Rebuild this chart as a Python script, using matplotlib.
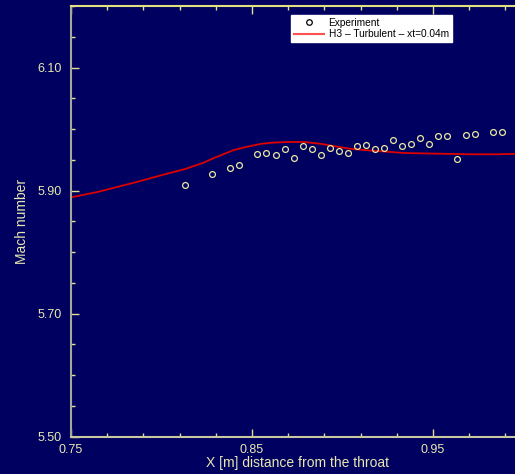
import numpy as np
import matplotlib
matplotlib.use('Agg')
import matplotlib.pyplot as plt
from matplotlib.ticker import MultipleLocator, FormatStrFormatter
from matplotlib.lines import Line2D

plt.rcParams['font.family'] = ['Liberation Sans', 'DejaVu Sans']

# experiment (open circles)
exp_x = [0.813, 0.828, 0.838, 0.843, 0.853, 0.858, 0.863, 0.868, 0.873, 0.878,
         0.883, 0.888, 0.893, 0.898, 0.903, 0.908, 0.913, 0.918, 0.923, 0.928,
         0.933, 0.938, 0.943, 0.948, 0.953, 0.958, 0.963, 0.968, 0.973, 0.983, 0.988]
exp_y = [5.909, 5.927, 5.937, 5.941, 5.960, 5.961, 5.958, 5.968, 5.953, 5.972,
         5.967, 5.958, 5.969, 5.964, 5.961, 5.973, 5.974, 5.968, 5.970, 5.983,
         5.972, 5.975, 5.985, 5.976, 5.989, 5.989, 5.951, 5.991, 5.992, 5.995, 5.995]

# H3 turbulent computation
sim_x = [0.75, 0.765, 0.785, 0.795, 0.805, 0.813, 0.823, 0.829, 0.835, 0.840,
         0.847, 0.855, 0.862, 0.870, 0.879, 0.888, 0.898, 0.904, 0.916, 0.925,
         0.935, 0.953, 0.971, 0.985, 1.0]
sim_y = [5.889, 5.898, 5.913, 5.921, 5.929, 5.935, 5.945, 5.953, 5.960, 5.966,
         5.971, 5.976, 5.978, 5.979, 5.979, 5.976, 5.971, 5.968, 5.965, 5.963,
         5.961, 5.960, 5.959, 5.959, 5.960]

bg = '#000060'
txt = '#e8e8b0'

fig = plt.figure(figsize=(5.15, 4.74), dpi=100, facecolor=bg)
ax = fig.add_axes([71 / 515, 37.3 / 474, 452.5 / 515, 430.7 / 474], facecolor=bg)

ax.plot(sim_x, sim_y, color='#dd0000', lw=1.3, label='H3 \u2013 Turbulent \u2013 xt=0.04m', zorder=2)
ax.plot(exp_x, exp_y, 'o', ms=4.2, mfc='none', mec='#e8e8a0', mew=0.9,
        label='Experiment', zorder=3)

ax.set_xlim(0.75, 1.0)
ax.set_ylim(5.5, 6.2)
ax.xaxis.set_major_locator(MultipleLocator(0.1, offset=0.05))
ax.xaxis.set_minor_locator(MultipleLocator(0.02, offset=0.01))
ax.yaxis.set_major_locator(MultipleLocator(0.2, offset=0.1))
ax.yaxis.set_minor_locator(MultipleLocator(0.05))
ax.xaxis.set_major_formatter(FormatStrFormatter('%.2f'))
ax.yaxis.set_major_formatter(FormatStrFormatter('%.2f'))

ax.tick_params(which='both', direction='in', colors='#e0e090', labelcolor=txt,
               top=True, right=False, labelsize=9)
ax.tick_params(which='major', length=6, width=1)
ax.tick_params(which='minor', length=3, width=1)
ax.tick_params(axis='y', pad=7)
ax.tick_params(axis='x', pad=5)

ax.spines['left'].set_color('#a8a898')
ax.spines['bottom'].set_color('#c8c8a0')
ax.spines['top'].set_color('#e0e080')
ax.spines['right'].set_visible(False)
for s in ax.spines.values():
    s.set_linewidth(1.5)

ax.set_xlabel('X [m] distance from the throat', color=txt, fontsize=10, labelpad=0)
ax.set_ylabel('Mach number', color=txt, fontsize=10, labelpad=6)

handles = [Line2D([], [], ls='none', marker='o', ms=4, mfc='none', mec='black', mew=0.9),
           Line2D([], [], color='#ff5050', lw=1.5)]
leg = ax.legend(handles, ['Experiment', 'H3 \u2013 Turbulent \u2013 xt=0.04m'],
                loc='upper left', bbox_to_anchor=(220 / 452.5, 1 - 8.7 / 430.7),
                fontsize=7.3, frameon=True, fancybox=False, framealpha=1,
                edgecolor='white', facecolor='white', borderpad=0.3,
                labelspacing=0.15, handlelength=3.0, handletextpad=0.4,
                borderaxespad=0)

fig.savefig('out.png', dpi=100, facecolor=bg)
